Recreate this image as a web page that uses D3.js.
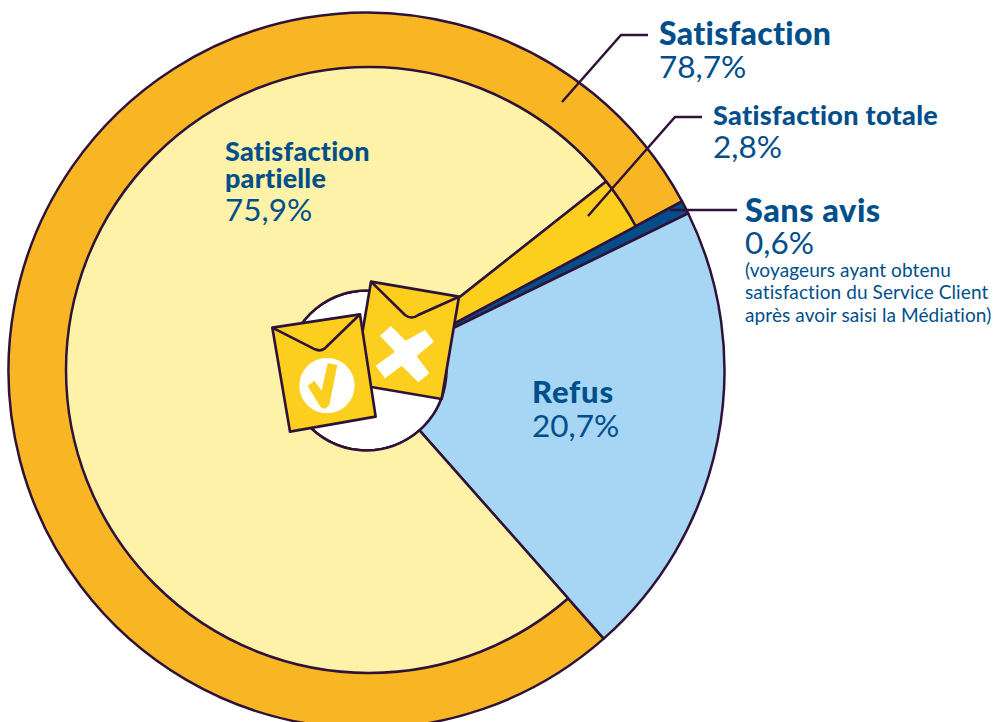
<!DOCTYPE html>
<html lang="fr"><head><meta charset="utf-8">
<script src="https://cdn.jsdelivr.net/npm/d3@7"></script>
<style>
html,body{margin:0;padding:0;background:#fff;overflow:hidden}
svg{display:block}
text{font-family:Lato,"Open Sans",sans-serif;fill:#004f8b;font-variant-ligatures:none}
.b{font-weight:900}
.l{font-weight:400}
.r{font-weight:400}
</style></head><body>
<svg id="c" width="995" height="722"></svg>
<script>
// Inner ring values (%)
const innerNames = ["Satisfaction partielle","Satisfaction totale","Sans avis","Refus"];
const innerValues = [75.9,2.8,0.6,20.7];
const innerColors = ["#fef2a8","#fccf1e","#064c8a","#a7d5f4"];
// Outer ring value: Satisfaction
const outerNames = ["Satisfaction","Sans avis","Refus"];
const outerValues = [78.7,0.6,20.7];
const outerColors = ["#f9b624","#064c8a","#a7d5f4"];
// Labels: text, x, baseline y, size, class, letter spacing
const labels = [
 ["Satisfaction",659,45,32,"b",0.3],["78,7%",659,78,31.5,"l",0],
 ["Satisfaction totale",713,125,27,"b",0.3],["2,8%",713,158,31.5,"l",0],
 ["Sans avis",745,222,32.5,"b",0.5],["0,6%",745,254,31.5,"l",0],
 ["(voyageurs ayant obtenu",745,277,19,"r",0.1],
 ["satisfaction du Service Client",745,299,19,"r",0.1],
 ["après avoir saisi la Médiation)",745,322,19,"r",0.1],
 ["Satisfaction",225,161,27,"b",0.2],["partielle",225,188,27,"b",0.2],["75,9%",225,221,31.5,"l",0],
 ["Refus",532,403,31,"b",0.8],["20,7%",532,437,31.5,"l",0]
];
const leaders = [
 [[562,102],[621,35],[648,35]],
 [[588,216],[675,117],[702,117]],
 [[670,210],[737,210]]
];
const cx=366.5, cy=370.5, R=358, R0=80;
const mx=369, my=370, Rm=303;   // the inner disc sits slightly off-centre in the reference
const ink="#2f1238";
const startDeg=138.5;
const svg=d3.select("#c");
const pie=d3.pie().sort(null).startAngle(startDeg*Math.PI/180).endAngle((startDeg+360)*Math.PI/180);
const defs=svg.append("defs");
const sectors=pie(innerValues).slice(0,2);
const wide=d3.arc().innerRadius(R0).outerRadius(R);
defs.append("clipPath").attr("id","disc").append("circle")
 .attr("cx",mx-cx).attr("cy",my-cy).attr("r",Rm);
defs.append("clipPath").attr("id","wedge").selectAll("path").data(sectors).join("path").attr("d",wide);

const g=svg.append("g").attr("transform",`translate(${cx},${cy})`);
g.append("circle").attr("r",R0).attr("fill","#fff").attr("stroke",ink).attr("stroke-width",2.5);
// outer ring
g.selectAll(".o").data(pie(outerValues)).join("path").attr("class","o")
 .attr("d",wide)
 .attr("fill",(d,i)=>outerColors[i]).attr("stroke",ink).attr("stroke-width",2.5).attr("stroke-linejoin","round");
// inner sectors, clipped by the inner disc
g.append("g").attr("clip-path","url(#disc)").selectAll(".i").data(sectors).join("path").attr("class","i")
 .attr("d",wide)
 .attr("fill",(d,i)=>innerColors[i]).attr("stroke",ink).attr("stroke-width",2.5).attr("stroke-linejoin","round");
// inner disc outline, limited to the inner sectors
g.append("g").attr("clip-path","url(#wedge)").append("circle")
 .attr("cx",mx-cx).attr("cy",my-cy).attr("r",Rm).attr("fill","none").attr("stroke",ink).attr("stroke-width",2.5);

// leaders
const line=d3.line();
svg.selectAll(".ld").data(leaders).join("path").attr("class","ld").attr("d",line)
 .attr("fill","none").attr("stroke",ink).attr("stroke-width",2.5);
// labels
svg.selectAll(".t").data(labels).join("text").attr("class",d=>"t "+d[4])
 .attr("x",d=>d[1]).attr("y",d=>d[2]).attr("font-size",d=>d[3]).attr("letter-spacing",d=>d[5]).text(d=>d[0]);

// envelopes (drawn in 3x local units)
const e=svg.append("g").attr("transform","translate(260,270) scale(0.3333)");
const sw=8;
function poly(pts,fill,stroke){return e.append("path").attr("d",d3.line().curve(d3.curveLinearClosed)(pts))
 .attr("fill",fill).attr("stroke",stroke||"none").attr("stroke-width",sw).attr("stroke-linejoin","round");}
// right envelope
poly([[333,35],[597,80],[545,387],[281,342]],"#fccf1e",ink);
e.append("path").attr("d","M333,35L435,135Q455,150 475,135L597,80").attr("fill","none").attr("stroke",ink).attr("stroke-width",sw);
poly([[393,168],[437,212],[495,180],[522,215],[470,258],[508,310],[475,337],[425,287],[375,325],[347,287],[405,245],[360,197]],"#fff");
// left envelope
poly([[37,173],[300,133],[347,440],[90,485]],"#fccf1e",ink);
e.append("path").attr("d","M37,173L165,238Q180,245 195,235L300,133").attr("fill","none").attr("stroke",ink).attr("stroke-width",sw);
e.append("circle").attr("cx",201).attr("cy",347).attr("r",83).attr("fill","#fff");
poly([[143,348],[163,332],[185,362],[203,280],[232,285],[208,405],[195,417],[182,412]],"#fccf1e");
</script></body></html>
